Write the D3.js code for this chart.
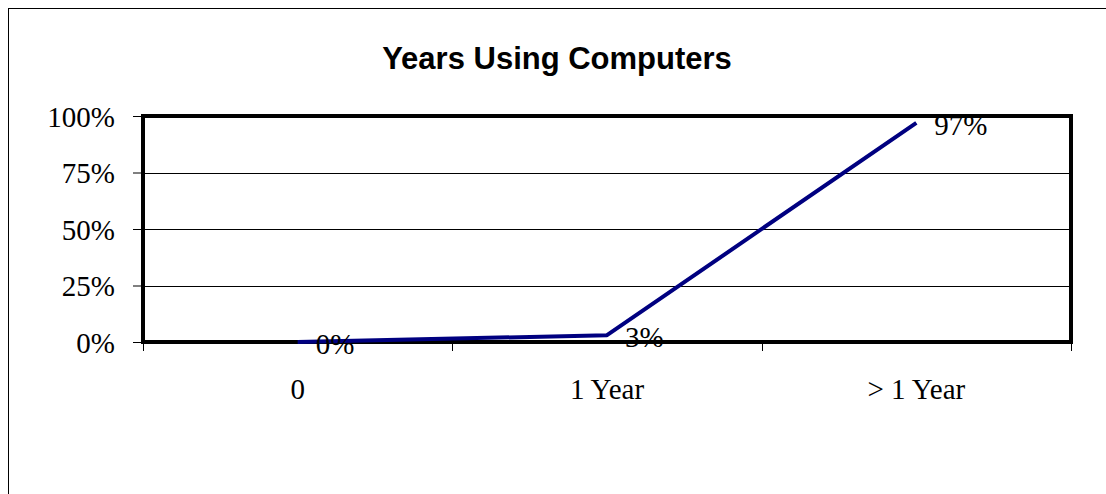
<!DOCTYPE html>
<html>
<head>
<meta charset="utf-8">
<script src="https://cdn.jsdelivr.net/npm/d3@7/dist/d3.min.js"></script>
<style>
  html, body { margin: 0; padding: 0; background: #fff; }
  svg { display: block; }
</style>
</head>
<body>
<svg id="chart" width="1106" height="494"></svg>
<script>
const categories = ["0", "1 Year", "> 1 Year"];
const values = [0.00, 0.03, 0.97];
const valueLabels = ["0%", "3%", "97%"];
const yTicks = [0, 0.25, 0.5, 0.75, 1];
const yTickLabels = ["0%", "25%", "50%", "75%", "100%"];
const title = "Years Using Computers";

const svg = d3.select("#chart");
const W = 1106, H = 494;
const plot = { left: 143, right: 1071, top: 116, bottom: 342 };

const x = d3.scaleBand().domain(categories).range([plot.left, plot.right]).padding(0);
const y = d3.scaleLinear().domain([0, 1]).range([plot.bottom, plot.top]);

const serif = "'Times New Roman', 'Liberation Serif', serif";
const sans = "Arial, 'Liberation Sans', sans-serif";

// outer chart border (extends beyond view on right/bottom)
svg.append("rect")
  .attr("x", 8.5).attr("y", 8.5)
  .attr("width", 1300).attr("height", 700)
  .attr("fill", "#fff").attr("stroke", "#000").attr("stroke-width", 1);

// title
svg.append("text")
  .attr("x", 557).attr("y", 69)
  .attr("text-anchor", "middle")
  .attr("font-family", sans).attr("font-weight", "bold").attr("font-size", 31)
  .attr("fill", "#000")
  .text(title);

// gridlines
svg.append("g").selectAll("line")
  .data(yTicks.filter(t => t > 0 && t < 1))
  .join("line")
  .attr("x1", plot.left).attr("x2", plot.right)
  .attr("y1", d => Math.round(y(d)) + 0.5).attr("y2", d => Math.round(y(d)) + 0.5)
  .attr("stroke", "#000").attr("stroke-width", 1);

// y-axis ticks and labels
const yAxis = d3.axisLeft(y)
  .tickValues(yTicks)
  .tickSize(10)
  .tickPadding(18)
  .tickFormat((d, i) => yTickLabels[i]);
const yg = svg.append("g").attr("transform", `translate(${plot.left},0)`).call(yAxis);
yg.select(".domain").remove();
yg.selectAll(".tick line").attr("stroke", "#000").attr("stroke-width", 1);
yg.selectAll(".tick text")
  .attr("font-family", serif).attr("font-size", 29).attr("fill", "#000")
  .attr("dy", "0.35em");

// x-axis boundary ticks
const bounds = categories.map(c => x(c)).concat([plot.right]);
svg.append("g").selectAll("line")
  .data(bounds)
  .join("line")
  .attr("x1", d => Math.round(d) + 0.5).attr("x2", d => Math.round(d) + 0.5)
  .attr("y1", plot.bottom).attr("y2", plot.bottom + 9)
  .attr("stroke", "#000").attr("stroke-width", 1);

// x-axis labels
svg.append("g").selectAll("text")
  .data(categories)
  .join("text")
  .attr("x", d => x(d) + x.bandwidth() / 2)
  .attr("y", 399)
  .attr("text-anchor", "middle")
  .attr("font-family", serif).attr("font-size", 29).attr("fill", "#000")
  .text(d => d);

// plot area border
svg.append("rect")
  .attr("x", plot.left).attr("y", plot.top)
  .attr("width", plot.right - plot.left).attr("height", plot.bottom - plot.top)
  .attr("fill", "none").attr("stroke", "#000").attr("stroke-width", 4);

// line
const pts = categories.map((c, i) => [x(c) + x.bandwidth() / 2, y(values[i])]);
svg.append("path")
  .attr("d", d3.line()(pts))
  .attr("fill", "none").attr("stroke", "#000080").attr("stroke-width", 4)
  .attr("stroke-linejoin", "round");

// data labels
svg.append("g").selectAll("text")
  .data(categories)
  .join("text")
  .attr("x", (c, i) => x(c) + x.bandwidth() / 2 + 18)
  .attr("y", (c, i) => y(values[i]) + 2)
  .attr("dy", "0.35em")
  .attr("font-family", serif).attr("font-size", 29).attr("fill", "#000")
  .text((c, i) => valueLabels[i]);
</script>
</body>
</html>
